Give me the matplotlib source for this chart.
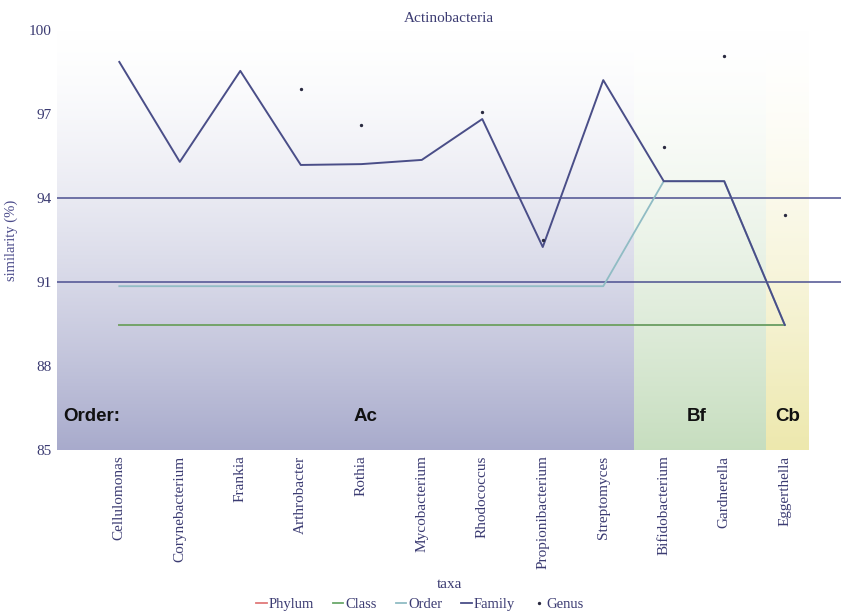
#%% Actinobacteria similarity plot
import numpy as np
import matplotlib.pyplot as plt
from matplotlib.lines import Line2D

#%% Data
taxa = ['Cellulomonas', 'Corynebacterium', 'Frankia', 'Arthrobacter', 'Rothia',
        'Mycobacterium', 'Rhodococcus', 'Propionibacterium', 'Streptomyces',
        'Bifidobacterium', 'Gardnerella', 'Eggerthella']
phylum = [89.47, 89.47, 89.47, 89.47, 89.47, 89.47, 89.47, 89.47, 89.47, 89.47, 89.47, 89.47]
class_ = [89.47, 89.47, 89.47, 89.47, 89.47, 89.47, 89.47, 89.47, 89.47, 89.47, 89.47, 89.47]
order = [90.85, 90.85, 90.85, 90.85, 90.85, 90.85, 90.85, 90.85, 90.85, 94.6, 94.6, 89.47]
family = [98.86, 95.29, 98.54, 95.18, 95.21, 95.36, 96.82, 92.25, 98.21, 94.6, 94.6, 89.47]
genus = [np.nan, np.nan, np.nan, 97.89, 96.6, np.nan, 97.07, 92.5, np.nan, 95.82, 99.07, 93.4]
cutoffs = [94, 91]
yticks = [85, 88, 91, 94, 97, 100]

# order bands: name, start, end (taxon index units), bottom colour, label x
bands = [('Ac', -1.03, 8.5, (0.66, 0.67, 0.80), 4.07),
         ('Bf', 8.5, 10.69, (0.78, 0.87, 0.75), 9.55),
         ('Cb', 10.69, 11.4, (0.93, 0.91, 0.68), 11.05)]

navy = '#3b3b72'
plt.rcParams['font.family'] = ['Liberation Serif', 'DejaVu Serif']

fig = plt.figure(figsize=(8.41, 6.16), dpi=100)
ax = fig.add_axes([57/841, 1 - 450/616, 1 - 57/841, 420/616])
x = np.arange(len(taxa))
ax.set_xlim(-1.03, 11.93)
ax.set_ylim(85, 100)

# gradient bands
t = np.linspace(0, 1, 200)
for name, x0, x1, col, lx in bands:
    w = (1 - t) ** 1.5
    img = np.ones((len(t), 1, 3))
    for c in range(3):
        img[:, 0, c] = 1 - w * (1 - col[c])
    ax.imshow(img, extent=(x0, x1, 85, 100), aspect='auto', origin='lower',
              interpolation='bilinear', zorder=0)
    ax.text(lx, 86.2, name, ha='center', va='center', fontsize=13.5,
            fontweight='bold', family='Liberation Sans', color='#111111')
ax.text(-0.92, 86.2, 'Order:', ha='left', va='center', fontsize=13.5,
        fontweight='bold', family='Liberation Sans', color='#111111')

for c in cutoffs:
    ax.axhline(c, color='#4c5090', lw=1.1, zorder=1)

ax.plot(x, phylum, color='#e07a7a', lw=1.3, zorder=2)
ax.plot(x, class_, color='#6aa86a', lw=1.3, zorder=3)
ax.plot(x, order, color='#90bcc4', lw=1.3, zorder=4)
ax.plot(x, family, color='#4a4e88', lw=1.4, zorder=5)
ax.plot(x, genus, ls='none', marker='o', ms=1.4, color='#2a2a40', zorder=6)

ax.set_xticks(x)
ax.set_xticklabels(taxa, rotation=90, fontsize=11, color=navy)
ax.set_yticks(yticks)
ax.set_yticklabels([str(v) for v in yticks], fontsize=11, color=navy)
ax.tick_params(length=0, pad=4)
for s in ax.spines.values():
    s.set_visible(False)

ax.set_title('Actinobacteria', fontsize=11, color=navy, pad=6)
ax.set_ylabel('similarity (%)', fontsize=10.5, color='#4a4a8a')
ax.yaxis.set_label_coords(-39/784, 0.5)
ax.set_xlabel('taxa', fontsize=11, color=navy, labelpad=6)

handles = [Line2D([], [], color='#e07a7a', lw=1.3),
           Line2D([], [], color='#6aa86a', lw=1.3),
           Line2D([], [], color='#90bcc4', lw=1.3),
           Line2D([], [], color='#4a4e88', lw=1.3),
           Line2D([], [], ls='none', marker='o', ms=1.4, color='#2a2a40')]
fig.legend(handles, ['Phylum', 'Class', 'Order', 'Family', 'Genus'],
           loc='center', bbox_to_anchor=(420/841, 1 - 604/616), ncol=5,
           frameon=False, fontsize=10.5, handlelength=0.7, handletextpad=0.15,
           columnspacing=1.3, labelcolor=navy)

fig.savefig('out.png', dpi=100)
